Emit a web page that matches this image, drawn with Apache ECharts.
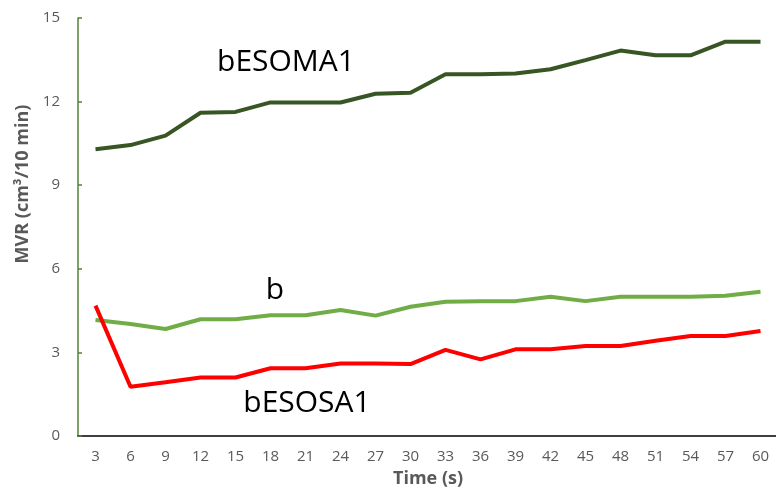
<!DOCTYPE html>
<html>
<head>
<meta charset="utf-8">
<script src="https://cdn.jsdelivr.net/npm/echarts@6/dist/echarts.min.js"></script>
<style>html,body{margin:0;padding:0;background:#fff;}#c{width:776px;height:496px;}</style>
</head>
<body>
<div id="c"></div>
<script>
var categories = ['3','6','9','12','15','18','21','24','27','30','33','36','39','42','45','48','51','54','57','60'];
var bESOMA1 = [10.29,10.44,10.78,11.6,11.63,11.97,11.97,11.97,12.28,12.32,12.98,12.98,13.01,13.16,13.49,13.83,13.66,13.66,14.15,14.15];
var bSeries = [4.16,4.02,3.84,4.19,4.19,4.33,4.33,4.52,4.32,4.64,4.82,4.84,4.84,5.0,4.84,5.0,5.0,5.0,5.03,5.18];
var bESOSA1 = [4.68,1.77,1.93,2.1,2.1,2.43,2.43,2.6,2.6,2.58,3.09,2.75,3.11,3.11,3.23,3.23,3.42,3.59,3.59,3.77];
var yTicks = [0,3,6,9,12,15];

var chart = echarts.init(document.getElementById('c'), null, {renderer:'canvas'});
var font = 'Open Sans, Noto Sans, sans-serif';
chart.setOption({
  animation:false,
  backgroundColor:'#fff',
  grid:{left:78, right:-2, top:18, bottom:60, containLabel:false, outerBoundsMode:'none'},
  xAxis:{
    type:'category', data:categories, boundaryGap:true,
    name:'Time (s)', nameLocation:'middle', nameGap:34,
    nameTextStyle:{color:'#595959', fontSize:18, fontWeight:'bold', fontFamily:font},
    axisLine:{lineStyle:{color:'#000', width:1.5}},
    axisTick:{inside:true, length:5, lineStyle:{color:'#000', width:1.5}},
    axisLabel:{color:'#595959', fontSize:15, fontFamily:font, margin:13},
    splitLine:{show:false}
  },
  yAxis:{
    type:'value', min:0, max:15, interval:3,
    name:'MVR (cm³/10 min)', nameLocation:'middle', nameGap:44,
    nameTextStyle:{color:'#595959', fontSize:18, fontWeight:'bold', fontFamily:font, padding:[0,0,0,86]},
    axisLine:{show:true, lineStyle:{color:'#548235', width:1.5}},
    axisTick:{show:true, inside:true, length:4, lineStyle:{color:'#548235', width:1.5}},
    axisLabel:{color:'#595959', fontSize:15, fontFamily:font, margin:18,
      formatter:function(v){return yTicks.indexOf(v)>=0? String(v):'';}},
    splitLine:{show:false}
  },
  series:[
    {name:'bESOMA1', type:'line', data:bESOMA1, symbol:'none', lineStyle:{color:'#375623', width:4}, itemStyle:{color:'#375623'}},
    {name:'b', type:'line', data:bSeries, symbol:'none', lineStyle:{color:'#70AD47', width:4}, itemStyle:{color:'#70AD47'}},
    {name:'bESOSA1', type:'line', data:bESOSA1, symbol:'none', lineStyle:{color:'#FF0000', width:4}, itemStyle:{color:'#FF0000'}}
  ],
  graphic:[
    {type:'text', style:{x:286, y:62, text:'bESOMA1', fill:'#000', font:'30px '+font, align:'center', verticalAlign:'middle'}},
    {type:'text', style:{x:275, y:290, text:'b', fill:'#000', font:'30px '+font, align:'center', verticalAlign:'middle'}},
    {type:'text', style:{x:307, y:403, text:'bESOSA1', fill:'#000', font:'30px '+font, align:'center', verticalAlign:'middle'}}
  ]
});
</script>
</body>
</html>
